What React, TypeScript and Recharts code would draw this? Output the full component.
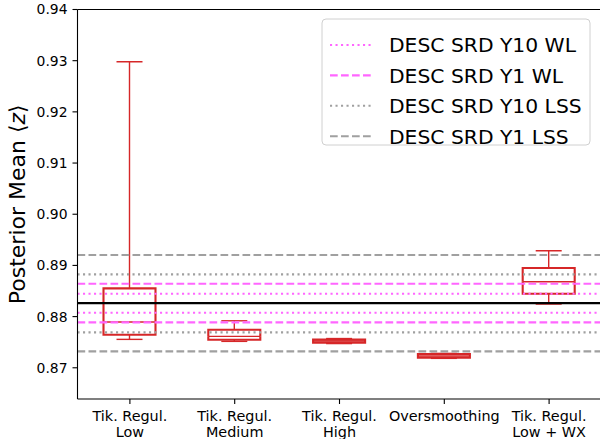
import { Bar, ComposedChart, ReferenceLine, XAxis, YAxis } from "recharts";

// categories on the x axis ("\n" splits the two tick lines)
const categories = [
  "Tik. Regul.\nLow",
  "Tik. Regul.\nMedium",
  "Tik. Regul.\nHigh",
  "Oversmoothing",
  "Tik. Regul.\nLow + WX",
];

// box statistics
const whiskerLow = [0.87555, 0.87516, 0.87473, 0.87184, 0.88245];
const quartile1 = [0.87645, 0.87547, 0.87492, 0.87199, 0.88446];
const medians = [0.87893, 0.87614, 0.87522, 0.87229, 0.88681];
const quartile3 = [0.88552, 0.87743, 0.87551, 0.87268, 0.88948];
const whiskerHigh = [0.9298, 0.87918, 0.87571, 0.87281, 0.89287];

// horizontal requirement bands
const fiducial = 0.88264;
const y10Wl = [0.88446, 0.88075];
const y1Wl = [0.88642, 0.87887];
const y10Lss = [0.88825, 0.87692];
const y1Lss = [0.89202, 0.8732];

const yTicks = [0.87, 0.88, 0.89, 0.9, 0.91, 0.92, 0.93, 0.94];

const FONT = "DejaVu Sans, sans-serif";
const RED = "#d62728";
const MAGENTA = "#ff66ff";
const GRAY = "#a0a0a0";
const DOT = "2.1 3.4";
const DASH = "7.7 3.3";

const legendItems = [
  { label: "DESC SRD Y10 WL", color: MAGENTA, dash: DOT },
  { label: "DESC SRD Y1 WL", color: MAGENTA, dash: DASH },
  { label: "DESC SRD Y10 LSS", color: GRAY, dash: DOT },
  { label: "DESC SRD Y1 LSS", color: GRAY, dash: DASH },
];

// stacked segments: [0..low] [low..q1] [q1..median] [median..q3] [q3..high]
const rows = categories.map((name, i) => ({
  name,
  lo: whiskerLow[i],
  s1: quartile1[i] - whiskerLow[i],
  s2: medians[i] - quartile1[i],
  s3: quartile3[i] - medians[i],
  s4: whiskerHigh[i] - quartile3[i],
}));

type ShapeProps = { x: number; y: number; width: number; height: number };

const LowCap = ({ x, y, width }: ShapeProps) => (
  <line x1={x + width / 4} x2={x + (3 * width) / 4} y1={y} y2={y} stroke={RED} strokeWidth={1.4} />
);

const LowWhisker = ({ x, y, width, height }: ShapeProps) => (
  <line x1={x + width / 2} x2={x + width / 2} y1={y} y2={y + height} stroke={RED} strokeWidth={1.4} />
);

const BoxLower = ({ x, y, width, height }: ShapeProps) => (
  <path
    d={`M${x},${y} L${x},${y + height} L${x + width},${y + height} L${x + width},${y}`}
    fill="none"
    stroke={RED}
    strokeWidth={2.1}
  />
);

const BoxUpper = ({ x, y, width, height }: ShapeProps) => (
  <g>
    <path
      d={`M${x},${y + height} L${x},${y} L${x + width},${y} L${x + width},${y + height}`}
      fill="none"
      stroke={RED}
      strokeWidth={2.1}
    />
    <line x1={x} x2={x + width} y1={y + height} y2={y + height} stroke={RED} strokeWidth={1.4} />
  </g>
);

const HighWhisker = ({ x, y, width, height }: ShapeProps) => (
  <g>
    <line x1={x + width / 2} x2={x + width / 2} y1={y} y2={y + height} stroke={RED} strokeWidth={1.4} />
    <line x1={x + width / 4} x2={x + (3 * width) / 4} y1={y} y2={y} stroke={RED} strokeWidth={1.4} />
  </g>
);

const XTick = ({ x, y, payload }: any) => {
  const lines = String(payload.value).split("\n");
  return (
    <text textAnchor="middle" fontFamily={FONT} fontSize={14.4} fill="#000">
      {lines.map((l, i) => (
        <tspan key={i} x={x} y={y + 14.8 + i * 16.6}>
          {l}
        </tspan>
      ))}
    </text>
  );
};

const YLabel = ({ viewBox }: any) => {
  const cy = viewBox.y + viewBox.height / 2;
  return (
    <text
      x={25}
      y={cy}
      transform={`rotate(-90, 25, ${cy})`}
      textAnchor="middle"
      fontFamily={FONT}
      fontSize={22}
      fill="#000"
    >
      Posterior Mean ⟨<tspan fontStyle="italic">z</tspan>⟩
    </text>
  );
};

function bandLines(values: number[], color: string, dash: string, key: string) {
  return values.map((v, i) => (
    <ReferenceLine key={key + i} y={v} stroke={color} strokeWidth={2.1} strokeDasharray={dash} />
  ));
}

export default function App() {
  return (
    <div style={{ position: "absolute", left: 0, top: 0, width: 600, height: 439, background: "#fff" }}>
      <ComposedChart
        width={600}
        height={439}
        data={rows}
        margin={{ top: 9.5, right: -1.5, bottom: 0, left: 0 }}
      >
        <XAxis
          dataKey="name"
          interval={0}
          height={40}
          tick={<XTick />}
          tickSize={5}
          tickLine={{ stroke: "#000", strokeWidth: 1.1 }}
          axisLine={{ stroke: "#000", strokeWidth: 1.1 }}
        />
        <YAxis
          type="number"
          domain={[0.8639, 0.94]}
          allowDataOverflow
          ticks={yTicks}
          width={77.5}
          tickSize={5}
          tickMargin={5}
          tickFormatter={(v: number) => v.toFixed(2)}
          tick={{ fill: "#000", fontSize: 13.9, fontFamily: FONT }}
          tickLine={{ stroke: "#000", strokeWidth: 1.1 }}
          axisLine={{ stroke: "#000", strokeWidth: 1.1 }}
          label={{ content: <YLabel /> }}
        />
        <Bar dataKey="lo" stackId="box" barSize={52} shape={LowCap as any} isAnimationActive={false} />
        <Bar dataKey="s1" stackId="box" barSize={52} shape={LowWhisker as any} isAnimationActive={false} />
        <Bar dataKey="s2" stackId="box" barSize={52} shape={BoxLower as any} isAnimationActive={false} />
        <Bar dataKey="s3" stackId="box" barSize={52} shape={BoxUpper as any} isAnimationActive={false} />
        <Bar dataKey="s4" stackId="box" barSize={52} shape={HighWhisker as any} isAnimationActive={false} />
        {bandLines(y1Lss, GRAY, DASH, "y1lss")}
        {bandLines(y10Lss, GRAY, DOT, "y10lss")}
        {bandLines(y1Wl, MAGENTA, DASH, "y1wl")}
        {bandLines(y10Wl, MAGENTA, DOT, "y10wl")}
        <ReferenceLine y={fiducial} stroke="#000" strokeWidth={2.1} />
        <ReferenceLine y={0.94} stroke="#000" strokeWidth={1.1} />
      </ComposedChart>
      <svg
        width={270}
        height={128}
        style={{ position: "absolute", left: 321, top: 18 }}
      >
        <rect
          x={1}
          y={1}
          width={268}
          height={126}
          rx={4}
          fill="rgba(255,255,255,0.8)"
          stroke="#d0d0d0"
          strokeWidth={1}
        />
        {legendItems.map((it, i) => {
          const cy = 27 + i * 30.4;
          return (
            <g key={it.label}>
              <line x1={9} x2={50} y1={cy} y2={cy} stroke={it.color} strokeWidth={2.1} strokeDasharray={it.dash} />
              <text x={68} y={cy + 7.4} fontFamily={FONT} fontSize={20.3} fill="#000">
                {it.label}
              </text>
            </g>
          );
        })}
      </svg>
    </div>
  );
}
